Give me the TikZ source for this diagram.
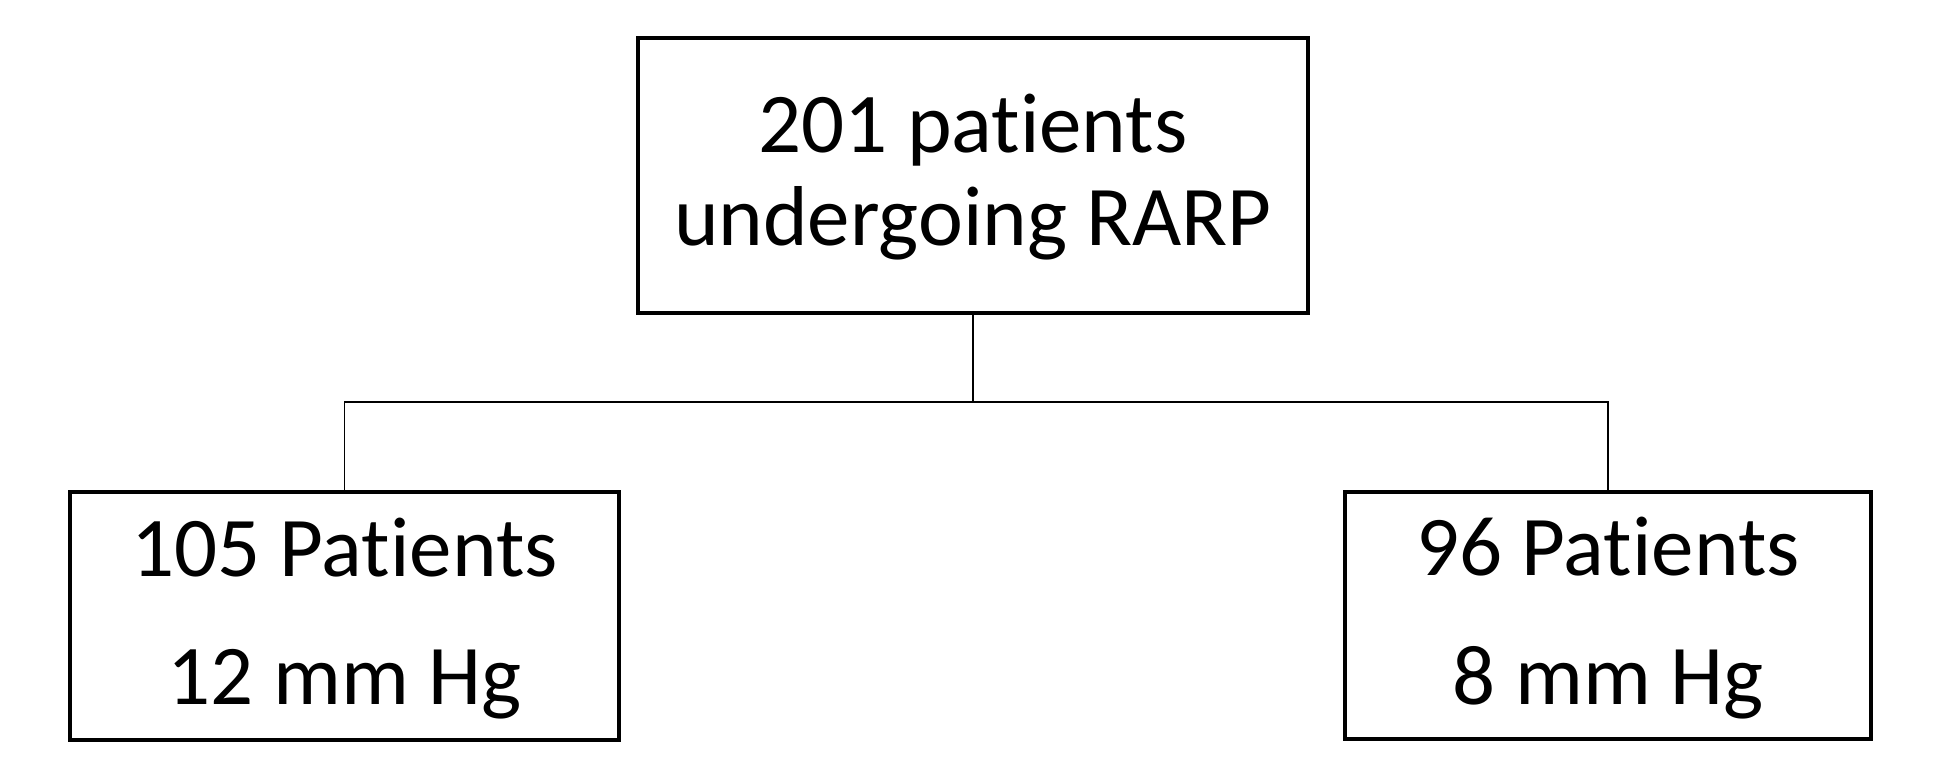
\documentclass[tikz,border=0pt]{standalone}
\usepackage{fontspec}
\setmainfont[Ligatures={NoCommon,NoRare,NoContextual},RawFeature={-liga;-clig;-calt;-dlig}]{Carlito}
\begin{document}
\begin{tikzpicture}[x=1pt,y=-1pt,
  boxstyle/.style={draw=black,line width=4pt,inner sep=0pt},
  txt/.style={anchor=base,inner sep=0pt,font=\fontsize{85}{92}\selectfont},
  conn/.style={draw=black,line width=1.5pt}]
\useasboundingbox (0,0) rectangle (1935,762);
\node[boxstyle,minimum width=670pt,minimum height=275pt] (top) at (973,175.5) {};
\node[boxstyle,minimum width=549pt,minimum height=248pt] (left) at (344.5,616) {};
\node[boxstyle,minimum width=526pt,minimum height=247pt] (right) at (1608,615.5) {};
\node[txt] (t1) at (973,153) {201 patients};
\node[txt] (t2) at (973,245) {undergoing RARP};
\node[txt] (l1) at (344.5,576) {105 Patients};
\node[txt] (l2) at (344.5,704) {12 mm Hg};
\node[txt] (r1) at (1608,575) {96 Patients};
\node[txt] (r2) at (1608,704) {8 mm Hg};
\coordinate (mid) at (973,402);
\draw[conn] (top.south) -- (mid);
\draw[conn] (mid) -| (left.north);
\draw[conn] (mid) -| (right.north);
\end{tikzpicture}
\end{document}
